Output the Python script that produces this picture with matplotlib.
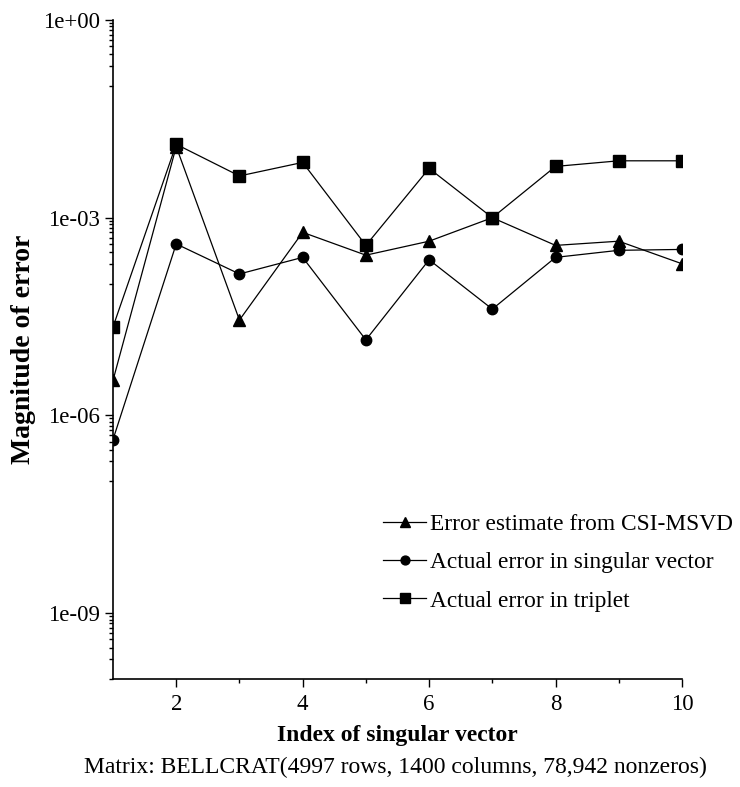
import numpy as np
import matplotlib
matplotlib.use("Agg")
import matplotlib.pyplot as plt
from matplotlib.ticker import FixedLocator, NullFormatter

plt.rcParams['font.family'] = ['Liberation Serif', 'DejaVu Serif']

idx = [1, 2, 3, 4, 5, 6, 7, 8, 9, 10]
est_csi = [3.4e-6, 1.2e-2, 2.8e-5, 6.0e-4, 2.7e-4, 4.4e-4, 1.0e-3, 3.8e-4, 4.4e-4, 2.0e-4]
err_vec = [4.3e-7, 4.0e-4, 1.4e-4, 2.5e-4, 1.4e-5, 2.3e-4, 4.1e-5, 2.5e-4, 3.2e-4, 3.3e-4]
err_trip = [2.2e-5, 1.3e-2, 4.3e-3, 6.9e-3, 3.8e-4, 5.6e-3, 1.0e-3, 6.0e-3, 7.3e-3, 7.3e-3]

labels = ["Error estimate from CSI-MSVD",
          "Actual error in singular vector",
          "Actual error in triplet"]
ytick_vals = [1e0, 1e-3, 1e-6, 1e-9]
ytick_labels = ["1e+00", "1e-03", "1e-06", "1e-09"]

fig = plt.figure(figsize=(7.4, 7.87), dpi=100)
ax = fig.add_axes([0.1527, 0.1372, 0.9216 - 0.1527, 0.9746 - 0.1372])

ax.plot(idx, est_csi, color='black', lw=0.9, marker='^', ms=8.5, label=labels[0])
ax.plot(idx, err_vec, color='black', lw=0.9, marker='o', ms=7.5, label=labels[1])
ax.plot(idx, err_trip, color='black', lw=0.9, marker='s', ms=8, label=labels[2])

ax.set_yscale('log')
ax.set_ylim(1e-10, 1e0)
ax.set_xlim(1, 10)

ax.yaxis.set_major_locator(FixedLocator(ytick_vals))
ax.set_yticklabels(ytick_labels)
minors = [m * v / 10 for v in ytick_vals for m in range(1, 10)]
ax.yaxis.set_minor_locator(FixedLocator(minors))
ax.yaxis.set_minor_formatter(NullFormatter())

ax.set_xticks([2, 4, 6, 8, 10])
ax.set_xticks([3, 5, 7, 9], minor=True)

ax.spines['top'].set_visible(False)
ax.spines['right'].set_visible(False)
ax.spines['left'].set_linewidth(1.2)
ax.spines['bottom'].set_linewidth(1.2)
ax.tick_params(which='major', direction='out', length=6, width=1, labelsize=16.5)
ax.tick_params(axis='x', which='major', pad=5)
ax.tick_params(which='minor', direction='out', length=3, width=1)

ax.set_xlabel("Index of singular vector", fontsize=17, fontweight='bold', labelpad=7)
ax.set_ylabel("Magnitude of error", fontsize=20, fontweight='bold')
ax.yaxis.set_label_coords(-0.1353, 0.5)

fig.text(395 / 740, 1 - 767 / 787, "Matrix: BELLCRAT(4997 rows, 1400 columns, 78,942 nonzeros)",
         ha='center', va='center', fontsize=17)

ax.legend(loc='upper left', bbox_to_anchor=(383 / 740, 1 - 514 / 787),
          bbox_transform=fig.transFigure, frameon=False, borderpad=0, borderaxespad=0,
          fontsize=16.8, handlelength=1.85, handletextpad=0.15, labelspacing=0.72,
          markerscale=0.85)

fig.savefig("out.png", dpi=100)
